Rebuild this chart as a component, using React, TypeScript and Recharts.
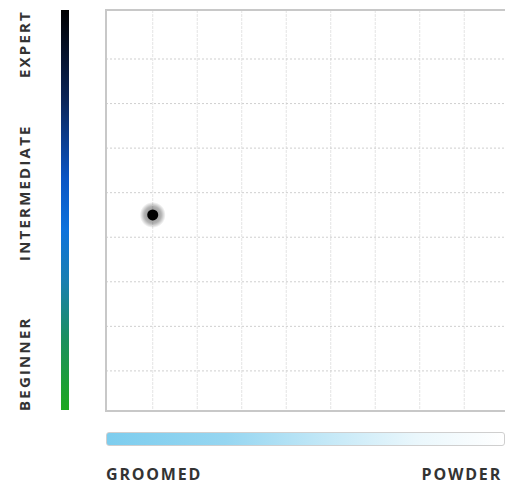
import { ScatterChart, Scatter, XAxis, YAxis, CartesianGrid, ReferenceArea } from 'recharts';

// plot scale: one grid cell per unit
const X_DOMAIN = [-0.05, 9.95];
const Y_DOMAIN = [0.1, 9.1];
const GRID_X = [1, 2, 3, 4, 5, 6, 7, 8, 9];
const GRID_Y = [1, 2, 3, 4, 5, 6, 7, 8];

// difficulty labels along the left side
const LEVELS = ['BEGINNER', 'INTERMEDIATE', 'EXPERT'];
const LEVEL_AT = [0.1, 5, 9.1];

// terrain labels under the gradient bar
const TERRAIN = ['GROOMED', 'POWDER'];

// the single run marked on the chart
const runs = [{ terrain: 1, level: 4.5 }];

const labelFont = {
  fontFamily: '"Open Sans", sans-serif',
  fontWeight: 700,
  fontSize: 15,
  letterSpacing: 2.2,
  fill: '#333',
};

const terrainFont = { ...labelFont, fontSize: 16, letterSpacing: 1.8 };

const LevelTick = (props: any) => {
  const { y, index } = props;
  const anchor = index === 0 ? 'start' : index === LEVELS.length - 1 ? 'end' : 'middle';
  return (
    <text x={30} y={y} transform={`rotate(-90, 30, ${y})`} textAnchor={anchor} style={labelFont}>
      {LEVELS[index]}
    </text>
  );
};

const RunDot = (props: any) => {
  const { cx, cy } = props;
  return (
    <g>
      <defs>
        <radialGradient id="halo">
          <stop offset="0%" stopColor="#000" stopOpacity={0.5} />
          <stop offset="65%" stopColor="#000" stopOpacity={0.3} />
          <stop offset="100%" stopColor="#000" stopOpacity={0} />
        </radialGradient>
      </defs>
      <circle cx={cx} cy={cy} r={13} fill="url(#halo)" />
      <circle cx={cx} cy={cy} r={5.5} fill="#000" />
    </g>
  );
};

export default function App() {
  return (
    <div
      style={{
        position: 'fixed',
        left: 0,
        top: 0,
        width: 505,
        height: 485,
        overflow: 'hidden',
        background: '#fff',
      }}
    >
      <ScatterChart width={551} height={485} margin={{ top: 10, right: 0, left: 0, bottom: 74 }}>
        <CartesianGrid horizontal={false} stroke="#e4e4e4" strokeDasharray="3 1" />
        <CartesianGrid vertical={false} stroke="#cfcfcf" strokeDasharray="2 2" />
        <XAxis type="number" dataKey="terrain" domain={X_DOMAIN} ticks={GRID_X} hide allowDataOverflow />
        <YAxis type="number" dataKey="level" domain={Y_DOMAIN} ticks={GRID_Y} hide allowDataOverflow />
        <YAxis
          yAxisId="level"
          type="number"
          domain={Y_DOMAIN}
          ticks={LEVEL_AT}
          interval={0}
          width={106}
          axisLine={false}
          tickLine={false}
          tick={LevelTick}
          allowDataOverflow
        />
        <ReferenceArea
          x1={X_DOMAIN[0]}
          x2={X_DOMAIN[1]}
          y1={Y_DOMAIN[0]}
          y2={Y_DOMAIN[1]}
          fill="none"
          stroke="#c8c8c8"
          strokeWidth={2}
        />
        <Scatter data={runs} shape={<RunDot />} isAnimationActive={false} />
      </ScatterChart>
      <div
        style={{
          position: 'absolute',
          left: 61,
          top: 10,
          width: 8,
          height: 400,
          background:
            'linear-gradient(to bottom, #000 0%, #0a2456 22%, #0a55c4 42%, #0d72dc 55%, #1a7fb0 68%, #1a9060 82%, #1fa81f 100%)',
        }}
      />
      <div
        style={{
          position: 'absolute',
          left: 106,
          top: 432,
          width: 397,
          height: 12,
          border: '1px solid #cfcfcf',
          borderRadius: 3,
          background: 'linear-gradient(to right, #7dcdee 0%, #96d6f1 30%, #c3e8f7 55%, #eaf7fc 78%, #fff 100%)',
        }}
      />
      <svg
        width={505}
        height={485}
        style={{ position: 'absolute', left: 0, top: 0, pointerEvents: 'none' }}
      >
        <text x={106} y={480} textAnchor="start" style={terrainFont}>
          {TERRAIN[0]}
        </text>
        <text x={502} y={480} textAnchor="end" style={terrainFont}>
          {TERRAIN[1]}
        </text>
      </svg>
    </div>
  );
}
